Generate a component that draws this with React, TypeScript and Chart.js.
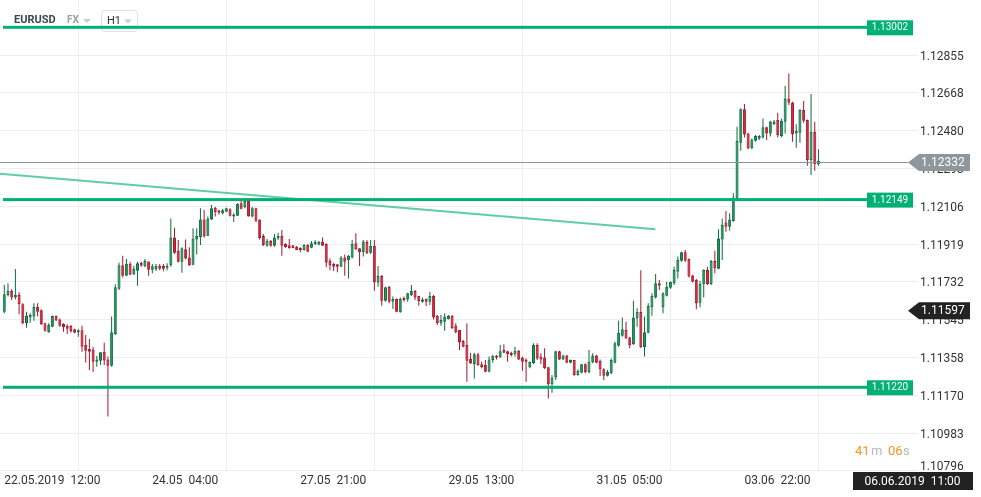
import { useEffect, useRef } from 'react';
import { Chart, registerables } from 'chart.js';

Chart.register(...registerables);

// ---- Data (EURUSD, H1 candles) ----
const opens = [
  1.11584, 1.11667, 1.11687, 1.11655, 1.11667, 1.11621, 1.11527, 1.11556, 1.11560, 1.11607,
  1.11591, 1.11527, 1.11482, 1.11510, 1.11563, 1.11546, 1.11525, 1.11515, 1.11513, 1.11497,
  1.11482, 1.11492, 1.11419, 1.11399, 1.11395, 1.11337, 1.11342, 1.11385, 1.11348, 1.11317,
  1.11474, 1.11698, 1.11814, 1.11762, 1.11822, 1.11769, 1.11787, 1.11825, 1.11809, 1.11833,
  1.11792, 1.11795, 1.11812, 1.11810, 1.11802, 1.11814, 1.11952, 1.11885, 1.11832, 1.11893,
  1.11853, 1.11817, 1.11942, 1.11954, 1.12041, 1.11960, 1.12041, 1.12099, 1.12086, 1.12071,
  1.12079, 1.12091, 1.12055, 1.12059, 1.12121, 1.12101, 1.12132, 1.12055, 1.12096, 1.12041,
  1.11959, 1.11911, 1.11934, 1.11911, 1.11946, 1.11959, 1.11919, 1.11913, 1.11913, 1.11906,
  1.11899, 1.11890, 1.11914, 1.11901, 1.11918, 1.11916, 1.11929, 1.11919, 1.11835, 1.11820,
  1.11819, 1.11807, 1.11853, 1.11840, 1.11853, 1.11923, 1.11898, 1.11878, 1.11929, 1.11876,
  1.11909, 1.11729, 1.11761, 1.11639, 1.11708, 1.11634, 1.11647, 1.11581, 1.11652, 1.11645,
  1.11667, 1.11687, 1.11662, 1.11634, 1.11647, 1.11634, 1.11662, 1.11563, 1.11527, 1.11535,
  1.11548, 1.11563, 1.11515, 1.11494, 1.11439, 1.11419, 1.11350, 1.11325, 1.11373, 1.11324,
  1.11320, 1.11287, 1.11345, 1.11366, 1.11358, 1.11395, 1.11388, 1.11381, 1.11373, 1.11391,
  1.11355, 1.11348, 1.11309, 1.11329, 1.11419, 1.11362, 1.11358, 1.11309, 1.11225, 1.11259,
  1.11388, 1.11348, 1.11368, 1.11332, 1.11345, 1.11271, 1.11282, 1.11324, 1.11284, 1.11333,
  1.11368, 1.11340, 1.11299, 1.11267, 1.11279, 1.11332, 1.11416, 1.11465, 1.11494, 1.11456,
  1.11423, 1.11551, 1.11583, 1.11408, 1.11480, 1.11606, 1.11654, 1.11725, 1.11606, 1.11663,
  1.11703, 1.11725, 1.11782, 1.11837, 1.11878, 1.11845, 1.11764, 1.11741, 1.11629, 1.11720,
  1.11791, 1.11720, 1.11835, 1.11797, 1.11942, 1.12026, 1.12005, 1.12033, 1.12140, 1.12421,
  1.12586, 1.12467, 1.12393, 1.12431, 1.12441, 1.12446, 1.12497, 1.12467, 1.12513, 1.12533,
  1.12454, 1.12525, 1.12640, 1.12620, 1.12467, 1.12470, 1.12583, 1.12533, 1.12335, 1.12475,
  1.12314,
];

const highs = [
  1.11716, 1.11725, 1.11696, 1.11795, 1.11680, 1.11626, 1.11584, 1.11576, 1.11626, 1.11626,
  1.11596, 1.11530, 1.11527, 1.11566, 1.11566, 1.11550, 1.11527, 1.11522, 1.11518, 1.11500,
  1.11497, 1.11515, 1.11469, 1.11449, 1.11411, 1.11365, 1.11383, 1.11431, 1.11362, 1.11560,
  1.11720, 1.11827, 1.11861, 1.11845, 1.11832, 1.11812, 1.11832, 1.11832, 1.11845, 1.11833,
  1.11820, 1.11820, 1.11820, 1.11820, 1.11824, 1.12046, 1.12000, 1.11939, 1.11903, 1.11942,
  1.11903, 1.11997, 1.11997, 1.12096, 1.12088, 1.12055, 1.12112, 1.12104, 1.12088, 1.12094,
  1.12099, 1.12096, 1.12071, 1.12121, 1.12132, 1.12137, 1.12145, 1.12104, 1.12099, 1.12041,
  1.11969, 1.11944, 1.11939, 1.11969, 1.11975, 1.11989, 1.11923, 1.11944, 1.11914, 1.11909,
  1.11903, 1.11918, 1.11918, 1.11934, 1.11939, 1.11934, 1.11952, 1.11923, 1.11848, 1.11827,
  1.11819, 1.11860, 1.11868, 1.11865, 1.11939, 1.11972, 1.11898, 1.11939, 1.11939, 1.11939,
  1.11939, 1.11810, 1.11766, 1.11708, 1.11711, 1.11659, 1.11650, 1.11655, 1.11659, 1.11678,
  1.11716, 1.11692, 1.11662, 1.11654, 1.11650, 1.11683, 1.11667, 1.11568, 1.11568, 1.11576,
  1.11568, 1.11568, 1.11527, 1.11494, 1.11444, 1.11527, 1.11381, 1.11381, 1.11381, 1.11337,
  1.11345, 1.11362, 1.11370, 1.11370, 1.11419, 1.11423, 1.11391, 1.11386, 1.11411, 1.11395,
  1.11362, 1.11353, 1.11338, 1.11428, 1.11428, 1.11378, 1.11403, 1.11312, 1.11271, 1.11391,
  1.11391, 1.11371, 1.11371, 1.11348, 1.11345, 1.11299, 1.11325, 1.11329, 1.11395, 1.11378,
  1.11371, 1.11348, 1.11304, 1.11296, 1.11353, 1.11436, 1.11540, 1.11556, 1.11535, 1.11460,
  1.11639, 1.11601, 1.11790, 1.11560, 1.11626, 1.11675, 1.11771, 1.11741, 1.11680, 1.11733,
  1.11734, 1.11807, 1.11857, 1.11881, 1.11890, 1.11848, 1.11767, 1.11746, 1.11738, 1.11794,
  1.11807, 1.11840, 1.11886, 1.11993, 1.12046, 1.12083, 1.12071, 1.12170, 1.12500, 1.12591,
  1.12612, 1.12470, 1.12442, 1.12459, 1.12459, 1.12541, 1.12500, 1.12530, 1.12533, 1.12569,
  1.12541, 1.12701, 1.12764, 1.12624, 1.12512, 1.12586, 1.12627, 1.12536, 1.12662, 1.12525,
  1.12389,
];

const lows = [
  1.11576, 1.11659, 1.11642, 1.11645, 1.11571, 1.11522, 1.11505, 1.11530, 1.11540, 1.11560,
  1.11518, 1.11485, 1.11480, 1.11507, 1.11538, 1.11510, 1.11485, 1.11474, 1.11480, 1.11477,
  1.11460, 1.11386, 1.11333, 1.11296, 1.11287, 1.11312, 1.11320, 1.11320, 1.11065, 1.11312,
  1.11469, 1.11692, 1.11754, 1.11761, 1.11766, 1.11766, 1.11713, 1.11807, 1.11804, 1.11762,
  1.11774, 1.11786, 1.11790, 1.11784, 1.11790, 1.11807, 1.11870, 1.11828, 1.11777, 1.11843,
  1.11810, 1.11814, 1.11868, 1.11914, 1.11952, 1.11959, 1.12038, 1.12055, 1.12066, 1.12066,
  1.12076, 1.12055, 1.12028, 1.12058, 1.12091, 1.12096, 1.12055, 1.12051, 1.12028, 1.11942,
  1.11909, 1.11906, 1.11906, 1.11906, 1.11939, 1.11861, 1.11901, 1.11896, 1.11898, 1.11890,
  1.11878, 1.11886, 1.11880, 1.11898, 1.11913, 1.11913, 1.11909, 1.11804, 1.11790, 1.11786,
  1.11779, 1.11807, 1.11762, 1.11749, 1.11848, 1.11890, 1.11810, 1.11857, 1.11870, 1.11870,
  1.11688, 1.11708, 1.11614, 1.11634, 1.11626, 1.11597, 1.11581, 1.11579, 1.11634, 1.11634,
  1.11662, 1.11642, 1.11614, 1.11629, 1.11612, 1.11617, 1.11546, 1.11518, 1.11515, 1.11490,
  1.11546, 1.11498, 1.11477, 1.11395, 1.11408, 1.11238, 1.11325, 1.11254, 1.11317, 1.11304,
  1.11284, 1.11284, 1.11332, 1.11348, 1.11357, 1.11378, 1.11337, 1.11362, 1.11362, 1.11345,
  1.11292, 1.11238, 1.11304, 1.11325, 1.11345, 1.11325, 1.11300, 1.11155, 1.11183, 1.11246,
  1.11345, 1.11345, 1.11329, 1.11329, 1.11267, 1.11267, 1.11279, 1.11279, 1.11279, 1.11329,
  1.11329, 1.11266, 1.11246, 1.11263, 1.11276, 1.11329, 1.11411, 1.11460, 1.11449, 1.11403,
  1.11419, 1.11510, 1.11404, 1.11362, 1.11477, 1.11564, 1.11650, 1.11692, 1.11576, 1.11659,
  1.11696, 1.11716, 1.11749, 1.11832, 1.11832, 1.11754, 1.11729, 1.11596, 1.11606, 1.11654,
  1.11716, 1.11716, 1.11774, 1.11794, 1.11840, 1.11980, 1.11985, 1.12030, 1.12137, 1.12381,
  1.12446, 1.12388, 1.12388, 1.12426, 1.12434, 1.12442, 1.12434, 1.12451, 1.12508, 1.12447,
  1.12447, 1.12467, 1.12607, 1.12426, 1.12396, 1.12421, 1.12520, 1.12307, 1.12261, 1.12282,
  1.12307,
];

const closes = [
  1.11670, 1.11687, 1.11655, 1.11667, 1.11621, 1.11527, 1.11563, 1.11568, 1.11607, 1.11584,
  1.11522, 1.11490, 1.11518, 1.11563, 1.11541, 1.11515, 1.11507, 1.11500, 1.11489, 1.11480,
  1.11492, 1.11411, 1.11391, 1.11386, 1.11337, 1.11348, 1.11383, 1.11343, 1.11317, 1.11482,
  1.11705, 1.11814, 1.11762, 1.11822, 1.11767, 1.11795, 1.11824, 1.11812, 1.11835, 1.11792,
  1.11809, 1.11810, 1.11797, 1.11797, 1.11812, 1.11952, 1.11876, 1.11832, 1.11898, 1.11847,
  1.11814, 1.11947, 1.11959, 1.12041, 1.11956, 1.12046, 1.12096, 1.12076, 1.12074, 1.12086,
  1.12096, 1.12059, 1.12066, 1.12117, 1.12094, 1.12132, 1.12055, 1.12096, 1.12035, 1.11949,
  1.11913, 1.11934, 1.11911, 1.11952, 1.11959, 1.11911, 1.11904, 1.11899, 1.11899, 1.11890,
  1.11890, 1.11914, 1.11881, 1.11923, 1.11929, 1.11929, 1.11911, 1.11827, 1.11814, 1.11807,
  1.11807, 1.11853, 1.11832, 1.11861, 1.11919, 1.11893, 1.11878, 1.11932, 1.11873, 1.11909,
  1.11729, 1.11761, 1.11639, 1.11705, 1.11634, 1.11647, 1.11584, 1.11647, 1.11642, 1.11675,
  1.11687, 1.11654, 1.11637, 1.11645, 1.11634, 1.11662, 1.11555, 1.11527, 1.11543, 1.11560,
  1.11563, 1.11502, 1.11482, 1.11432, 1.11411, 1.11342, 1.11329, 1.11373, 1.11320, 1.11309,
  1.11287, 1.11348, 1.11366, 1.11358, 1.11388, 1.11381, 1.11373, 1.11370, 1.11391, 1.11348,
  1.11337, 1.11337, 1.11335, 1.11419, 1.11353, 1.11348, 1.11304, 1.11225, 1.11259, 1.11388,
  1.11348, 1.11368, 1.11332, 1.11345, 1.11271, 1.11291, 1.11324, 1.11284, 1.11337, 1.11368,
  1.11332, 1.11299, 1.11267, 1.11286, 1.11345, 1.11428, 1.11480, 1.11497, 1.11452, 1.11418,
  1.11556, 1.11583, 1.11408, 1.11482, 1.11612, 1.11662, 1.11725, 1.11713, 1.11675, 1.11708,
  1.11731, 1.11791, 1.11840, 1.11878, 1.11837, 1.11758, 1.11733, 1.11626, 1.11721, 1.11791,
  1.11721, 1.11835, 1.11799, 1.11947, 1.12013, 1.12005, 1.12041, 1.12150, 1.12429, 1.12586,
  1.12462, 1.12393, 1.12437, 1.12454, 1.12454, 1.12497, 1.12467, 1.12526, 1.12526, 1.12459,
  1.12530, 1.12640, 1.12619, 1.12464, 1.12479, 1.12583, 1.12530, 1.12335, 1.12475, 1.12314,
  1.12332,
];

const timeTickIndex = [0, 40, 80, 120, 160, 200, 240];
const timeLabels = ['22.05.2019  12:00', '24.05  04:00', '27.05  21:00', '29.05  13:00', '31.05  05:00', '03.06  22:00', ''];
const priceTicks = [1.12855, 1.12668, 1.1248, 1.12293, 1.12106, 1.11919, 1.11732, 1.11545, 1.11358, 1.1117, 1.10983, 1.10796];
const levels = [1.13002, 1.12149, 1.1122];
const trendLine = [
  { x: -1.16, y: 1.12267 },
  { x: 175.95, y: 1.11992 },
];
const lastPrice = 1.12332;
const cursorPrice = 1.11597;
const cursorTime = '06.06.2019  11:00';
const symbolName = 'EURUSD';
const marketName = 'FX';
const intervalName = 'H1';
const timerParts = ['41', 'm', '06', 's'];

// ---- Styles ----
const GREEN_FILL = '#1f9c63';
const GREEN_EDGE = '#0d6a3f';
const RED_FILL = '#e3263f';
const RED_EDGE = '#a1182b';
const LEVEL = '#00b074';
const GRID = '#eeeeee';
const TICK_COLOR = '#333333';

const isUp = (i: number) => closes[i] >= opens[i];
const lowestTick = Math.min(...priceTicks);

function tri(ctx: CanvasRenderingContext2D, x: number, y: number, color: string) {
  ctx.fillStyle = color;
  ctx.beginPath();
  ctx.moveTo(x, y - 2);
  ctx.lineTo(x + 8, y - 2);
  ctx.lineTo(x + 4, y + 2);
  ctx.closePath();
  ctx.fill();
}

function tag(ctx: CanvasRenderingContext2D, left: number, yc: number, fill: string, text: string) {
  ctx.fillStyle = fill;
  ctx.beginPath();
  ctx.moveTo(left, yc);
  ctx.lineTo(left + 11, yc - 8.5);
  ctx.lineTo(left + 62, yc - 8.5);
  ctx.lineTo(left + 62, yc + 8.5);
  ctx.lineTo(left + 11, yc + 8.5);
  ctx.closePath();
  ctx.fill();
  ctx.fillStyle = '#ffffff';
  ctx.font = '12px Roboto';
  ctx.textAlign = 'left';
  ctx.textBaseline = 'middle';
  ctx.fillText(text, left + 13, yc + 0.5);
}

const overlayPlugin = {
  id: 'overlay',
  afterDatasetsDraw(chart: any) {
    const ctx: CanvasRenderingContext2D = chart.ctx;
    const ys = chart.scales.y;
    const area = chart.chartArea;
    ctx.save();

    // header
    ctx.textAlign = 'left';
    ctx.textBaseline = 'middle';
    ctx.font = 'bold 11px Roboto';
    ctx.fillStyle = '#3a4650';
    ctx.fillText(symbolName, 14, 20.5);
    ctx.font = 'bold 10px Roboto';
    ctx.fillStyle = '#98a2a8';
    ctx.fillText(marketName, 67, 20.5);
    tri(ctx, 83, 21, '#c9ced1');
    ctx.fillStyle = '#ffffff';
    ctx.strokeStyle = '#dde1e4';
    ctx.lineWidth = 1;
    ctx.beginPath();
    (ctx as any).roundRect(101.5, 10.5, 36, 21, 3);
    ctx.fill();
    ctx.stroke();
    ctx.font = '11px Roboto';
    ctx.fillStyle = '#333333';
    ctx.fillText(intervalName, 107, 21);
    tri(ctx, 124, 21.5, '#c9ced1');

    // lowest price tick label, lifted above the chart bottom edge
    ctx.font = '12px Roboto';
    ctx.fillStyle = TICK_COLOR;
    ctx.textAlign = 'left';
    ctx.textBaseline = 'middle';
    ctx.fillText(lowestTick.toFixed(5), area.right + 2, ys.getPixelForValue(lowestTick) - 3.5);

    // horizontal levels
    levels.forEach((v) => {
      const py = ys.getPixelForValue(v) + 2;
      ctx.fillStyle = LEVEL;
      ctx.fillRect(3, py - 1.5, 866, 3);
      ctx.fillRect(867, py - 7, 46, 15);
      ctx.fillStyle = '#ffffff';
      ctx.font = '10px Roboto';
      ctx.textAlign = 'center';
      ctx.textBaseline = 'middle';
      ctx.fillText(v.toFixed(5), 890, py + 0.5);
    });

    // current price line + tag
    const lp = Math.round(ys.getPixelForValue(lastPrice) + 1.7) + 0.5;
    ctx.strokeStyle = '#8a959b';
    ctx.lineWidth = 1;
    ctx.beginPath();
    ctx.moveTo(area.left, lp);
    ctx.lineTo(908, lp);
    ctx.stroke();
    tag(ctx, 908, lp, '#8e979c', lastPrice.toFixed(5));

    // cursor price tag
    const cp = ys.getPixelForValue(cursorPrice) + 1.6;
    tag(ctx, 908, cp, '#222222', cursorPrice.toFixed(5));

    // timer
    ctx.font = '13px Roboto';
    ctx.textAlign = 'left';
    ctx.textBaseline = 'middle';
    const tx = [855, 871, 888, 903];
    timerParts.forEach((t, i) => {
      ctx.fillStyle = i % 2 === 0 ? '#f7931e' : '#b8b8b8';
      ctx.fillText(t, tx[i], 452);
    });

    // cursor time box
    ctx.fillStyle = '#222222';
    ctx.fillRect(853, 472, 120, 18);
    ctx.fillStyle = '#ffffff';
    ctx.font = '12px Roboto';
    ctx.textAlign = 'center';
    ctx.fillText(cursorTime, 912.5, 481.5);

    ctx.restore();
  },
};

export default function App() {
  const ref = useRef<HTMLCanvasElement>(null);

  useEffect(() => {
    document.body.style.margin = '0';
    const canvas = ref.current;
    if (!canvas) return;

    const bodies = opens.map((o, i) => ({ x: i, y: [Math.min(o, closes[i]), Math.max(o, closes[i])] }));
    const wicks = lows.map((l, i) => ({ x: i, y: [l, highs[i]] }));

    const chart = new Chart(canvas, {
      type: 'bar',
      data: {
        datasets: [
          {
            type: 'line',
            data: trendLine,
            borderColor: 'rgba(40, 190, 135, 0.75)',
            borderWidth: 2,
            pointRadius: 0,
            fill: false,
          } as any,
          {
            type: 'bar',
            data: bodies as any,
            backgroundColor: (c: any) => (isUp(c.dataIndex) ? GREEN_FILL : RED_FILL),
            borderColor: (c: any) => (isUp(c.dataIndex) ? GREEN_EDGE : RED_EDGE),
            borderWidth: 1,
            borderSkipped: false,
            barThickness: 3,
            minBarLength: 1,
            grouped: false,
            inflateAmount: 0,
          } as any,
          {
            type: 'bar',
            data: wicks as any,
            backgroundColor: (c: any) => (isUp(c.dataIndex) ? GREEN_EDGE : RED_EDGE),
            borderWidth: 0,
            barThickness: 1,
            grouped: false,
            inflateAmount: 0,
          } as any,
        ],
      },
      options: {
        animation: false,
        responsive: false,
        events: [],
        layout: { padding: 0 },
        plugins: { legend: { display: false }, tooltip: { enabled: false } },
        scales: {
          x: {
            type: 'linear',
            min: -1.16,
            max: 246.9,
            offset: false,
            grid: { color: GRID, drawTicks: false },
            border: { display: false },
            afterBuildTicks: (s: any) => {
              s.ticks = timeTickIndex.map((v) => ({ value: v }));
            },
            afterFit: (s: any) => {
              s.height = 26;
              s.paddingLeft = 0;
              s.paddingRight = 0;
            },
            ticks: {
              autoSkip: false,
              maxRotation: 0,
              align: 'start',
              padding: 3,
              color: TICK_COLOR,
              font: { family: 'Roboto', size: 12 },
              callback: (_v: any, i: number) => timeLabels[i] ?? '',
            },
          },
          y: {
            type: 'linear',
            position: 'right',
            min: 1.107956,
            max: 1.131273,
            grid: { color: GRID, drawTicks: false },
            border: { display: false },
            afterBuildTicks: (s: any) => {
              s.ticks = priceTicks.map((v) => ({ value: v }));
            },
            afterFit: (s: any) => {
              s.width = 63;
              s.paddingTop = 0;
              s.paddingBottom = 0;
            },
            ticks: {
              padding: 2,
              labelOffset: 1.5,
              color: TICK_COLOR,
              font: { family: 'Roboto', size: 12 },
              callback: (v: any) => (Number(v) === lowestTick ? '' : Number(v).toFixed(5)),
            },
          },
        },
      } as any,
      plugins: [overlayPlugin],
    });

    return () => chart.destroy();
  }, []);

  return (
    <div style={{ width: 981, height: 497, background: '#ffffff', overflow: 'hidden' }}>
      <canvas ref={ref} width={981} height={497} style={{ display: 'block', width: 981, height: 497 }} />
    </div>
  );
}
